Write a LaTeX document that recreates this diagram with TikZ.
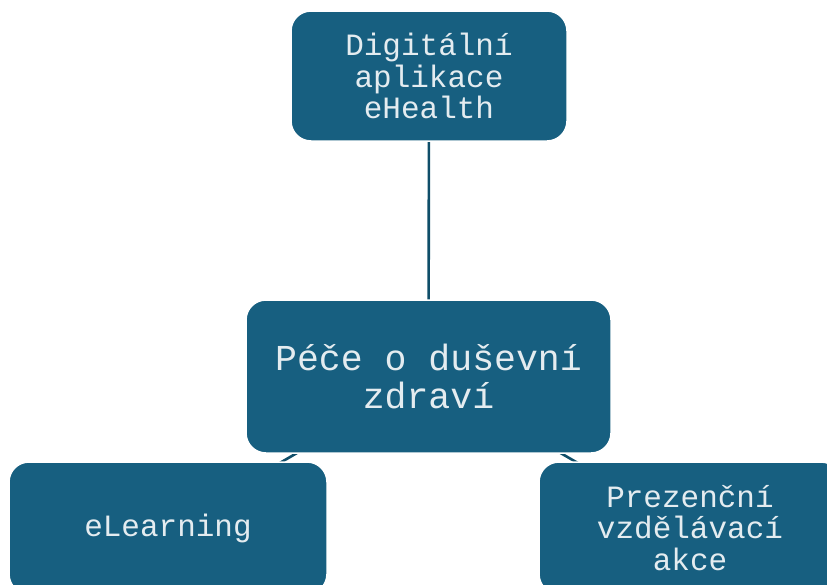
\documentclass[tikz,border=0pt]{standalone}
\usepackage{fontspec}
\setmonofont{Liberation Mono}
\usetikzlibrary{backgrounds}

\definecolor{boxblue}{HTML}{175F80}
\definecolor{linkblue}{HTML}{0F4E69}
\definecolor{boxtext}{HTML}{E4ECF0}

\begin{document}
\begin{tikzpicture}[
  x=1pt,y=-1pt,
  box/.style={rectangle,rounded corners=20pt,fill=boxblue,draw=white,line width=1.5pt,
    text=boxtext,align=center,inner sep=0pt},
  txt/.style={font=\ttfamily\fontsize{31}{31.5}\selectfont},
  big/.style={font=\ttfamily\fontsize{36.5}{38}\selectfont},
  link/.style={draw=linkblue,line width=2.6pt}
]
\useasboundingbox (0,0) rectangle (827,584);
\clip (0,0) rectangle (827,584);

% -------------------------
% Top: the app
% -------------------------
\node[box,txt,minimum width=276pt,minimum height=130pt] (D) at (429,76) {Digitální\\aplikace\\eHealth};

% -------------------------
% Middle: the hub
% -------------------------
\node[box,big,minimum width=365pt,minimum height=153pt] (P) at (428.5,376.5) {Péče o duševní\\zdraví};

% -------------------------
% Bottom: the two ways of learning
% -------------------------
\node[box,txt,minimum width=318pt,minimum height=132pt] (E) at (168,528) {eLearning};
\node[box,txt,minimum width=302pt,minimum height=132pt] (V) at (690,528) {Prezenční\\vzdělávací\\akce};

% links run centre to centre, behind the boxes
\begin{scope}[on background layer]
\draw[link] (D.center) -- (P.center);
\draw[link] (P.center) -- (E.center);
\draw[link] (P.center) -- (V.center);
\end{scope}

\end{tikzpicture}
\end{document}
